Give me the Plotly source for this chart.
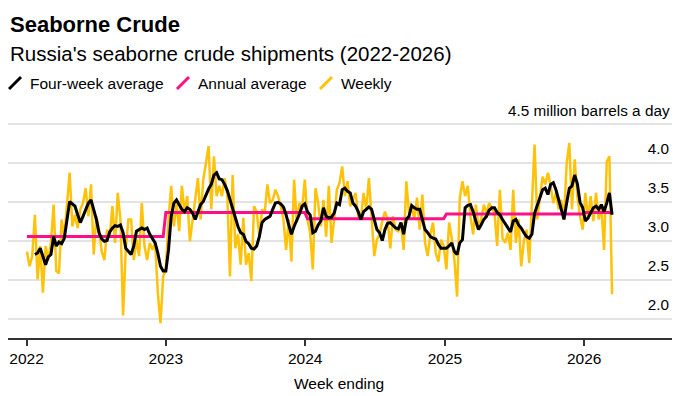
import plotly.graph_objects as go
import pandas as pd

# ---------------- data ----------------
first_week = "2022-01-02"

weekly = [
    2.87, 2.68, 2.81, 3.34, 2.51, 2.94, 2.34, 2.94, 2.76, 2.98,
    3.47, 2.62, 2.59, 3.28, 3.06, 3.53, 3.88, 3.19, 3.34, 3.17,
    3.41, 3.49, 3.68, 3.32, 3.73, 2.83, 3.32, 3.15, 2.87, 2.76,
    3.15, 3.06, 3.45, 2.98, 3.62, 3.28, 2.05, 2.90, 3.28, 3.28,
    2.76, 3.02, 2.81, 3.49, 2.94, 2.76, 2.98, 2.89, 2.98, 2.34,
    1.95, 2.55, 2.64, 3.28, 3.71, 3.19, 3.49, 3.13, 3.71, 3.36,
    3.58, 3.00, 3.28, 3.49, 3.81, 3.28, 3.79, 4.00, 4.22, 3.41,
    4.09, 3.58, 3.71, 3.58, 3.81, 3.60, 2.55, 3.85, 2.91, 3.09,
    2.70, 3.30, 2.70, 2.85, 2.49, 3.45, 3.38, 3.06, 3.41, 3.36,
    3.73, 3.49, 3.53, 3.66, 3.58, 3.45, 3.28, 2.89, 3.28, 2.74,
    3.79, 3.24, 3.49, 3.41, 3.79, 3.28, 3.11, 2.64, 3.68, 3.49,
    3.19, 3.53, 3.06, 3.71, 2.98, 3.28, 3.66, 3.75, 3.96, 3.58,
    3.77, 3.45, 3.53, 3.62, 3.32, 3.28, 3.62, 3.41, 3.81, 3.36,
    2.81, 3.02, 3.09, 3.26, 3.38, 3.28, 2.91, 3.32, 3.15, 3.13,
    3.24, 2.89, 3.77, 3.36, 3.45, 3.28, 3.56, 3.15, 3.60, 2.98,
    2.81, 3.09, 3.24, 2.85, 2.74, 3.02, 2.94, 2.64, 3.24, 3.04,
    2.76, 2.29, 3.55, 3.77, 3.58, 3.71, 3.32, 3.09, 3.47, 3.19,
    3.28, 3.47, 3.36, 3.49, 3.43, 3.36, 2.94, 3.66, 3.04, 2.98,
    3.11, 2.89, 3.66, 2.98, 3.28, 2.68, 3.00, 3.15, 2.72, 3.45,
    4.24, 3.28, 3.53, 3.83, 3.73, 3.88, 3.71, 3.49, 3.62, 3.41,
    3.53, 3.28, 4.00, 4.26, 3.41, 4.05, 3.58, 3.32, 3.15, 3.62,
    3.28, 3.58, 3.26, 3.62, 3.28, 3.45, 2.89, 4.02, 4.09, 2.32,
]

four_week = [None, None, None,
    2.83, 2.85, 2.91, 2.81, 2.70, 2.80, 2.83,
    3.06, 2.94, 2.99, 2.97, 3.04, 3.28, 3.51, 3.48, 3.45, 3.34,
    3.24, 3.32, 3.40, 3.49, 3.53, 3.41, 3.28, 3.11, 3.03, 3.00,
    3.01, 3.12, 3.17, 3.20, 3.19, 3.21, 3.11, 2.91, 2.87, 2.83,
    2.94, 3.13, 3.15, 3.17, 3.15, 3.17, 3.09, 3.04, 2.98, 2.85,
    2.68, 2.62, 2.62, 2.89, 3.32, 3.49, 3.53, 3.47, 3.41, 3.38,
    3.43, 3.41, 3.36, 3.28, 3.38, 3.47, 3.51, 3.60, 3.67, 3.73,
    3.85, 3.88, 3.80, 3.79, 3.73, 3.65, 3.53, 3.43, 3.30, 3.19,
    3.11, 3.09, 3.00, 2.97, 2.91, 2.90, 2.94, 3.06, 3.24, 3.28,
    3.30, 3.32, 3.41, 3.49, 3.50, 3.48, 3.44, 3.34, 3.21, 3.09,
    3.19, 3.26, 3.35, 3.45, 3.48, 3.38, 3.34, 3.11, 3.13, 3.21,
    3.26, 3.43, 3.32, 3.30, 3.31, 3.36, 3.49, 3.47, 3.66, 3.68,
    3.64, 3.62, 3.49, 3.45, 3.38, 3.28, 3.38, 3.41, 3.44, 3.41,
    3.28, 3.15, 3.11, 3.01, 3.15, 3.23, 3.24, 3.20, 3.17, 3.16,
    3.24, 3.09, 3.28, 3.32, 3.46, 3.43, 3.41, 3.41, 3.28, 3.15,
    3.11, 3.06, 3.04, 3.03, 2.96, 2.91, 2.91, 2.91, 2.94, 2.98,
    2.87, 2.83, 2.98, 3.02, 3.43, 3.46, 3.47, 3.38, 3.26, 3.15,
    3.21, 3.28, 3.32, 3.40, 3.43, 3.43, 3.37, 3.34, 3.28, 3.23,
    3.18, 3.12, 3.26, 3.28, 3.21, 3.17, 3.11, 3.06, 3.04, 3.09,
    3.36, 3.47, 3.56, 3.66, 3.68, 3.60, 3.73, 3.75, 3.66, 3.53,
    3.41, 3.28, 3.49, 3.68, 3.71, 3.85, 3.74, 3.50, 3.43, 3.26,
    3.30, 3.36, 3.43, 3.45, 3.41, 3.47, 3.38, 3.49, 3.62, 3.34,
]

annual_years = [2022, 2023, 2024, 2025, 2026]
annual_avg = [3.06, 3.37, 3.29, 3.35, 3.37]

year_tick_dates = ["2022-01-01", "2023-01-01", "2024-01-01", "2025-01-01", "2026-01-01"]
year_tick_labels = ["2022", "2023", "2024", "2025", "2026"]

y_tick_vals = [2.0, 2.5, 3.0, 3.5, 4.0, 4.5]
y_tick_labels = ["2.0", "2.5", "3.0", "3.5", "4.0", ""]
y_top_label = "4.5 million barrels a day"

# ---------------- derived series ----------------
dates = pd.date_range(first_week, periods=len(weekly), freq="7D")
annual_lookup = dict(zip(annual_years, annual_avg))
annual_series = [annual_lookup[d.year] for d in dates]

YELLOW = "#FFC20A"
PINK = "#FF0F85"
BLACK = "#000000"
FONT = "Liberation Sans"

fig = go.Figure()
fig.add_trace(go.Scatter(x=dates, y=weekly, mode="lines", name="Weekly",
                         line=dict(color=YELLOW, width=2.5), hoverinfo="skip"))
fig.add_trace(go.Scatter(x=dates, y=annual_series, mode="lines", name="Annual average",
                         line=dict(color=PINK, width=3), hoverinfo="skip"))
fig.add_trace(go.Scatter(x=dates, y=four_week, mode="lines", name="Four-week average",
                         line=dict(color=BLACK, width=3), hoverinfo="skip"))

# The page body has an 8px margin, so the figure is sized to the visible area
OFF = 8
W, H = 700 - OFF, 396 - OFF
# plot area in page pixels
L, R, T, B = 8, 672, 102, 338
Y_PER_PX = 1 / 78.0
y_bottom = 2.0 - (B - 319.3) * Y_PER_PX
y_top = 4.5 + (124.3 - T) * Y_PER_PX


def px(x):
    return (x - L) / (R - L)


def py(y):
    return (B - y) / (B - T)


def ann(text, x, y, size, xanchor="left", bold=False):
    return dict(text=text, x=px(x), y=py(y), xanchor=xanchor, yanchor="middle",
                font=dict(family=FONT, size=size, color="#000",
                          weight="bold" if bold else "normal"),
                showarrow=False, xref="paper", yref="paper")


annotations = [
    ann("Seaborne Crude", 8, 24, 22, bold=True),
    ann("Russia's seaborne crude shipments (2022-2026)", 8, 53, 20.5),
    ann("Four-week average", 28, 83, 15.5),
    ann("Annual average", 196, 83, 15.5),
    ann("Weekly", 339, 83, 15.5),
    ann("Week ending", 339, 383, 15.5, xanchor="center"),
    ann(y_top_label, 672, 110, 15.3, xanchor="right"),
]

shapes = []
for (x0, col) in [(9, BLACK), (177, PINK), (320, YELLOW)]:
    shapes.append(dict(type="line", xref="paper", yref="paper",
                       x0=px(x0), y0=py(89), x1=px(x0 + 12), y1=py(77),
                       line=dict(color=col, width=3)))

fig.update_layout(
    width=W, height=H,
    margin=dict(l=L - OFF, r=(W + OFF) - R, t=T - OFF, b=(H + OFF) - B, pad=0,
                autoexpand=False),
    paper_bgcolor="white", plot_bgcolor="white",
    showlegend=False,
    font=dict(family=FONT, size=15.5, color="#000"),
    annotations=annotations,
    shapes=shapes,
    xaxis=dict(
        type="date",
        range=["2021-11-13 12:00", "2026-08-19"],
        tickvals=year_tick_dates, ticktext=year_tick_labels,
        ticks="outside", ticklen=6, tickwidth=1.5, tickcolor="#333",
        showline=True, linecolor="#333", linewidth=1.5,
        showgrid=False, zeroline=False,
        tickfont=dict(family=FONT, size=15.5, color="#000"),
        automargin=False,
        fixedrange=True,
    ),
    yaxis=dict(
        side="right",
        range=[y_bottom, y_top],
        tickvals=y_tick_vals, ticktext=y_tick_labels,
        ticklabelposition="inside top",
        ticklabelshift=-4,
        ticks="", showline=False, zeroline=False,
        showgrid=True, gridcolor="#e3e3e3", gridwidth=1.5,
        tickfont=dict(family=FONT, size=15.3, color="#000"),
        automargin=False,
        fixedrange=True,
    ),
)

fig.write_html("out.html")
